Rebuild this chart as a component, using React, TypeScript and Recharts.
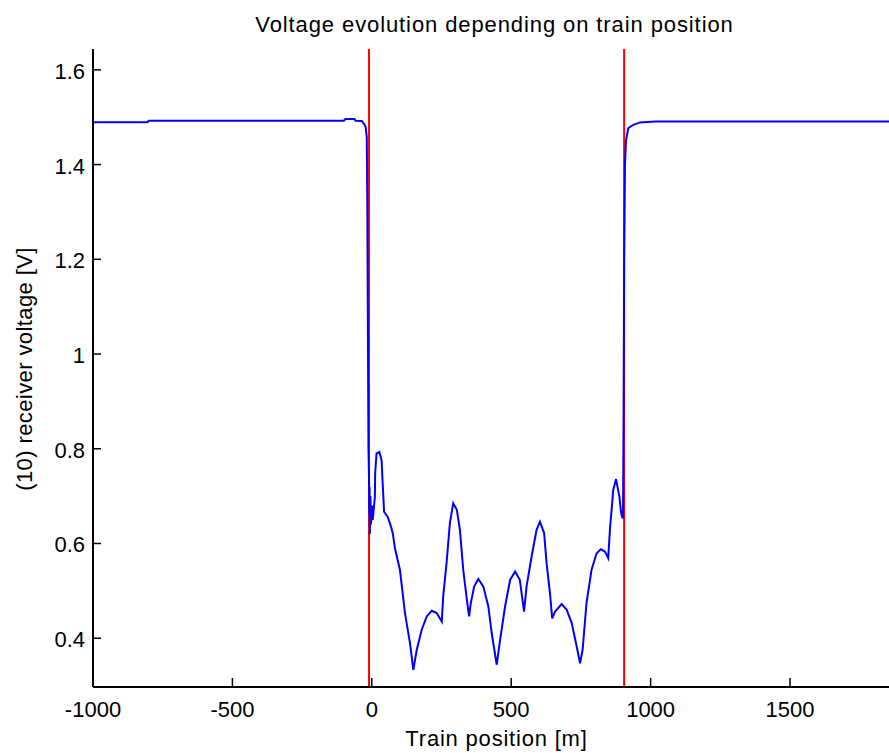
import { LineChart, Line, XAxis, YAxis, ReferenceLine } from "recharts";

// train position [m] and receiver voltage [V]
const positions = [
  -1000, -805, -800, -100, -95, -62, -58, -36, -28, -22, -18, -16, -14, -12, -10, -9, -8, -7, -5, -3, 0, 3, 5,
  11, 12, 17, 27, 35, 39, 44, 56, 65, 75, 83, 101, 119, 137, 149, 161, 179, 197, 215, 233, 251, 256, 268, 280,
  292, 305, 316, 328, 341, 349, 355, 367, 382, 400, 418, 430, 448, 460, 478, 496, 514, 531, 546, 555, 573, 591,
  603, 618, 627, 639, 647, 657, 681, 699, 717, 735, 747, 756, 770, 788, 806, 821, 836, 848, 854, 866, 876, 888,
  893, 896, 900, 901, 903, 905, 908, 912, 920, 938, 962, 1016, 1855,
];
const voltages = [
  1.4895, 1.4895, 1.4925, 1.4925, 1.496, 1.496, 1.4925, 1.492, 1.486, 1.479, 1.457, 1.3, 1.05, 0.8, 0.74, 0.66,
  0.72, 0.62, 0.7, 0.64, 0.68, 0.65, 0.66, 0.699, 0.748, 0.79, 0.793, 0.776, 0.727, 0.667, 0.657, 0.643, 0.622,
  0.59, 0.544, 0.453, 0.389, 0.333, 0.375, 0.418, 0.446, 0.458, 0.453, 0.435, 0.488, 0.558, 0.643, 0.685, 0.671,
  0.629, 0.544, 0.481, 0.446, 0.474, 0.509, 0.525, 0.509, 0.467, 0.411, 0.344, 0.396, 0.467, 0.523, 0.541, 0.523,
  0.456, 0.509, 0.572, 0.629, 0.646, 0.622, 0.558, 0.495, 0.442, 0.456, 0.472, 0.46, 0.432, 0.382, 0.347, 0.375,
  0.474, 0.544, 0.579, 0.588, 0.583, 0.569, 0.629, 0.713, 0.736, 0.699, 0.671, 0.66, 0.653, 0.66, 0.86, 1.2, 1.4,
  1.452, 1.477, 1.484, 1.489, 1.491, 1.491,
];
const xTicks = [-1000, -500, 0, 500, 1000, 1500];
const yTicks = [0.4, 0.6, 0.8, 1, 1.2, 1.4, 1.6];
const sectionEdges = [-10, 905];

const data = positions.map((x, i) => ({ x, v: voltages[i] }));

const font = "'Liberation Sans', Arial, sans-serif";

const XTick = (props: any) => {
  const { x, y, payload } = props;
  return (
    <g>
      <line x1={x} x2={x} y1={y} y2={y - 9} stroke="#000" strokeWidth={1.5} />
      <text x={x} y={y + 30} textAnchor="middle" fontSize={22} fontFamily={font} fill="#000">
        {payload.value}
      </text>
    </g>
  );
};

const YTick = (props: any) => {
  const { x, y, payload } = props;
  return (
    <g>
      <line x1={x} x2={x + 8} y1={y} y2={y} stroke="#000" strokeWidth={1.5} />
      <text x={x - 8} y={y + 9} textAnchor="end" fontSize={22} fontFamily={font} fill="#000">
        {payload.value}
      </text>
    </g>
  );
};

export default function App() {
  return (
    <div style={{ position: "absolute", left: 0, top: 0, width: 889, height: 753, background: "#fff", fontFamily: font }}>
      <LineChart width={889} height={753} data={data} margin={{ top: 49, right: 0, bottom: 0, left: 0 }}>
        <XAxis
          dataKey="x"
          type="number"
          domain={[-1000, 1855]}
          ticks={xTicks}
          height={66}
          tickSize={0}
          tickMargin={0}
          tickLine={false}
          tick={<XTick />}
          axisLine={{ stroke: "#000", strokeWidth: 2 }}
          allowDataOverflow
        />
        <YAxis
          type="number"
          domain={[0.297, 1.644]}
          ticks={yTicks}
          width={93}
          tickSize={0}
          tickMargin={0}
          tickLine={false}
          tick={<YTick />}
          axisLine={{ stroke: "#000", strokeWidth: 2 }}
          allowDataOverflow
        />
        {sectionEdges.map((p) => (
          <ReferenceLine key={p} x={p} stroke="#ff0000" strokeWidth={2} ifOverflow="extendDomain" />
        ))}
        <Line
          dataKey="v"
          type="linear"
          stroke="#0000ff"
          strokeWidth={2}
          dot={false}
          isAnimationActive={false}
        />
      </LineChart>
      <div
        style={{
          position: "absolute",
          left: 0,
          width: 989,
          top: 12,
          textAlign: "center",
          fontSize: 22,
          letterSpacing: 0.9,
          color: "#000",
          whiteSpace: "nowrap",
        }}
      >
        Voltage evolution depending on train position
      </div>
      <div
        style={{
          position: "absolute",
          left: 0,
          width: 993,
          top: 726,
          textAlign: "center",
          fontSize: 22,
          letterSpacing: 0.8,
          color: "#000",
          whiteSpace: "nowrap",
        }}
      >
        Train position [m]
      </div>
      <div
        style={{
          position: "absolute",
          left: 25,
          top: 369,
          transform: "translate(-50%, -50%) rotate(-90deg)",
          whiteSpace: "nowrap",
          fontSize: 22,
          letterSpacing: 0.4,
          color: "#000",
        }}
      >
        (10) receiver voltage [V]
      </div>
    </div>
  );
}
